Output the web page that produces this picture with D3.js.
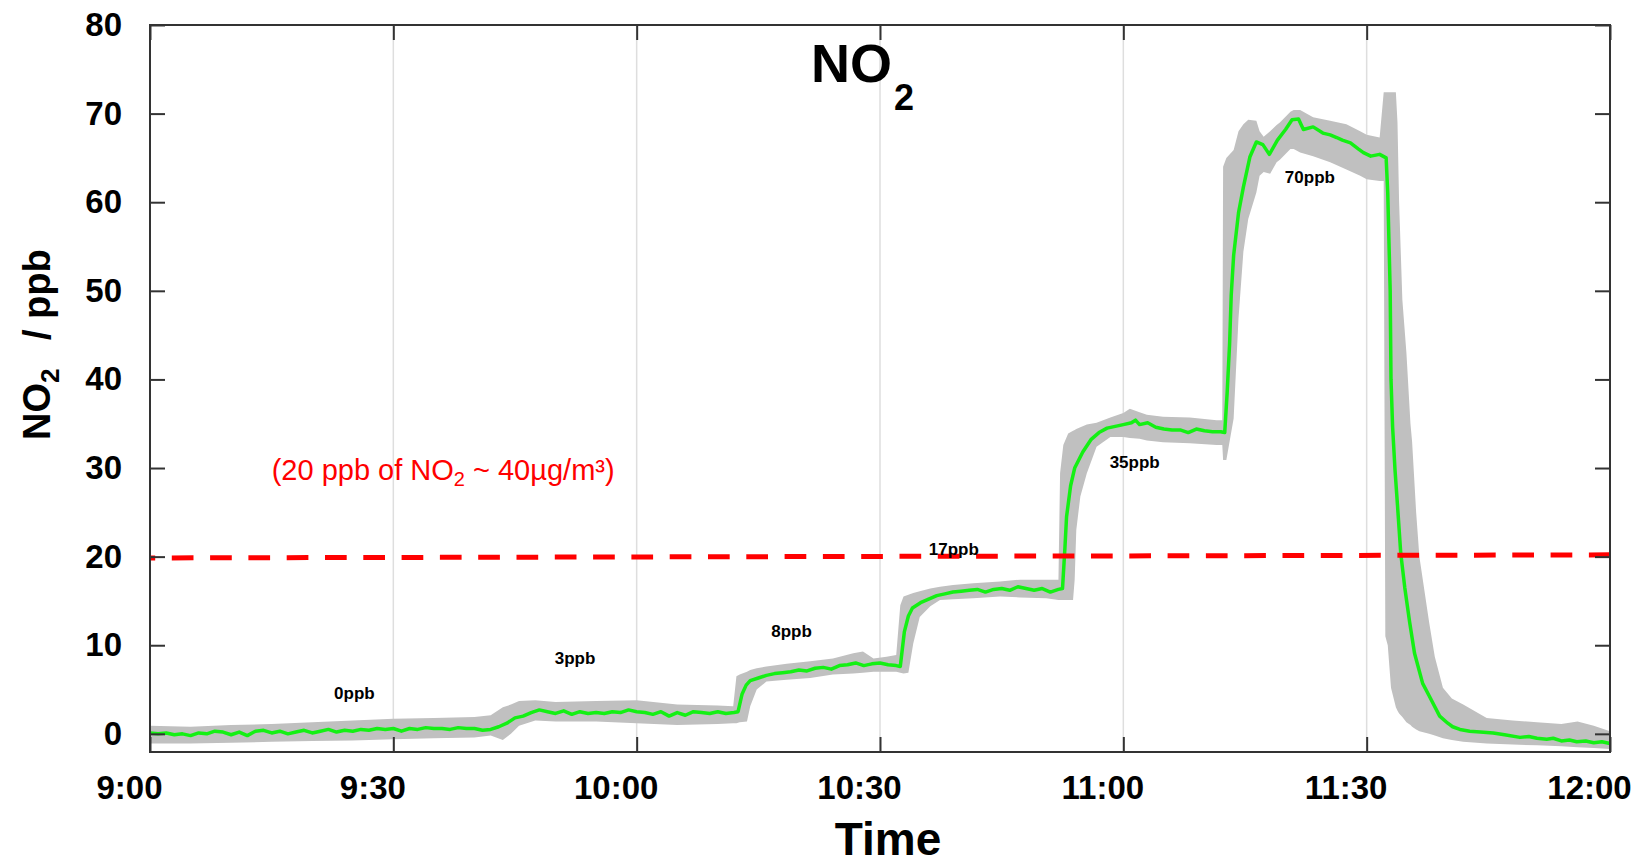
<!DOCTYPE html>
<html>
<head>
<meta charset="utf-8">
<script src="https://cdn.jsdelivr.net/npm/d3@7"></script>
<style>
body { margin: 0; background: #fff; }
svg { display: block; font-family: "Liberation Sans", Arial, sans-serif; }
</style>
</head>
<body>
<svg id="chart" width="1642" height="865"></svg>
<script>
// minutes after 9:00 and ppb
var xTickMinutes = [0, 30, 60, 90, 120, 150, 180];
var xTickLabels = ["9:00", "9:30", "10:00", "10:30", "11:00", "11:30", "12:00"];
var yTicks = [0, 10, 20, 30, 40, 50, 60, 70, 80];

// green trace: [minute, NO2 ppb]
var no2Mean = [
	[0,0.1],[1,0.0],[2,0.1],[3,-0.1],[4,0.0],[5,-0.2],[6,0.1],[7,0.0],[8,0.3],[9,0.2],
	[10,-0.1],[11,0.2],[12,-0.2],[13,0.3],[14,0.4],[15,0.1],[16,0.3],[17,0.0],[18,0.2],[19,0.4],
	[20,0.1],[21,0.3],[22,0.5],[23,0.2],[24,0.4],[25,0.3],[26,0.5],[27,0.4],[28,0.6],[29,0.5],
	[30,0.6],[31,0.3],[32,0.6],[33,0.5],[34,0.7],[35,0.6],[36,0.6],[37,0.5],[38,0.7],[39,0.6],
	[40,0.6],[41,0.4],[42,0.5],[43,0.8],[44,1.2],[45,1.8],[46,2.0],[47,2.4],[48,2.7],[49,2.5],
	[50,2.3],[51,2.6],[52,2.2],[53,2.5],[54,2.3],[55,2.4],[56,2.3],[57,2.5],[58,2.4],[59,2.7],
	[60,2.5],[61,2.4],[62,2.2],[63,2.5],[64,2.0],[65,2.4],[66,2.1],[67,2.5],[68,2.4],[69,2.3],
	[70,2.5],[71,2.3],[72,2.4],[72.5,2.5],[73,4.5],[73.5,5.5],[74,6.0],[75,6.3],[76,6.6],[77,6.8],
	[78,6.9],[79,7.0],[80,7.2],[81,7.1],[82,7.4],[83,7.5],[84,7.3],[85,7.7],[86,7.8],[87,8.0],
	[88,7.7],[89,7.9],[90,8.0],[91,7.8],[92,7.7],[92.5,7.6],[93,11.5],[93.5,13.3],[94,14.2],[95,14.8],
	[96,15.2],[97,15.6],[98,15.8],[99,16.0],[100,16.1],[101,16.2],[102,16.3],[103,16.0],[104,16.3],[105,16.4],
	[106,16.2],[107,16.6],[108,16.4],[109,16.2],[110,16.4],[111,16.0],[112,16.3],[112.5,16.4],[112.8,21.0],[113,24.5],
	[113.5,28.0],[114,30.0],[115,31.8],[116,33.2],[117,34.0],[118,34.5],[119,34.7],[120,34.9],[121,35.1],[121.5,35.4],
	[122,34.9],[123,35.1],[124,34.6],[125,34.4],[126,34.3],[127,34.3],[128,34.0],[129,34.4],[130,34.2],[131,34.1],
	[132,34.1],[132.5,34.0],[132.8,38.5],[133.1,44.0],[133.3,49.5],[133.6,54.0],[134.2,58.8],[134.8,61.7],[135.6,65.1],[136.4,66.8],
	[137.2,66.5],[138,65.4],[139,67.0],[140,68.2],[140.8,69.3],[141.6,69.4],[142.2,68.2],[143.4,68.5],[144.6,67.8],[145.5,67.6],
	[146.3,67.3],[147,67.0],[148,66.7],[149,66.0],[149.6,65.6],[150.5,65.2],[151.6,65.4],[152.4,65.0],[152.6,61.0],[152.9,50.0],
	[153,40.0],[153.2,34.6],[153.5,29.7],[153.8,25.8],[154.2,20.4],[154.7,16.5],[155.3,12.6],[155.9,9.1],[156.9,5.7],[157.7,4.3],
	[159,2.0],[160,1.2],[160.6,0.8],[161.5,0.5],[162.7,0.3],[164,0.2],[165.6,0.1],[167,-0.1],[168.9,-0.4],[170,-0.3],
	[171,-0.5],[172.2,-0.6],[173,-0.5],[174,-0.8],[175,-0.7],[175.9,-0.9],[177,-0.8],[178,-1.0],[179,-0.9],[180,-1.1]
];

// grey envelope: [minute, low, high]
var no2Band = [
	[0,-1.1,0.9],[5,-1.1,0.8],[10,-1.0,1.0],[15,-0.9,1.1],[20,-0.8,1.3],[25,-0.75,1.5],[30,-0.6,1.7],[35,-0.5,1.8],[40,-0.4,1.9],[42,-0.2,2.1],
	[43.5,-0.7,3.0],[44.5,0.0,3.3],[45.5,0.9,3.7],[47.5,1.5,3.8],[50,1.4,3.6],[55,1.4,3.7],[60,1.2,3.8],[65,1.0,3.3],[70,1.1,3.2],[71.9,1.2,3.1],
	[72.3,1.2,6.5],[72.7,1.3,6.7],[73.6,1.4,7.0],[74.0,3.1,7.2],[74.8,5.0,7.4],[76.0,5.9,7.6],[78.5,6.1,7.9],[81.4,6.3,8.2],[84.2,6.7,8.5],[86.7,6.8,9.1],
	[87.9,6.9,9.3],[89.2,7.0,8.5],[90.8,7.0,8.7],[92.0,7.0,8.9],[92.5,6.9,14.5],[92.9,6.8,15.5],[93.5,6.9,15.7],[94.1,10.2,15.9],[94.9,13.2,16.1],[96.2,14.4,16.4],
	[97.4,15.1,16.6],[99.0,15.2,16.8],[101.5,15.3,17.0],[104.8,15.5,17.2],[107.3,15.4,17.4],[110.5,15.3,17.4],[112.0,15.1,17.4],[112.2,15.1,29.4],[112.6,15.1,32.6],[113.2,15.1,33.9],
	[113.8,15.1,34.2],[114.0,17.4,34.3],[114.2,23.0,34.4],[114.7,26.8,34.6],[115.5,29.4,34.9],[116.7,32.4,35.1],[118.4,33.5,35.7],[120.0,33.5,36.2],[120.8,33.4,36.7],[122.0,33.3,36.3],
	[122.9,33.1,36.0],[124.9,32.9,35.8],[128.2,32.8,35.7],[131.5,32.6,35.4],[132.2,32.6,35.4],[132.3,30.9,64.0],[132.7,30.9,65.0],[133.6,35.6,65.9],[134.2,46.9,68.0],[134.8,54.4,68.8],
	[135.4,58.1,69.3],[136.4,61.1,69.2],[136.8,63.0,68.0],[137.3,63.4,67.4],[138.1,63.2,68.0],[138.9,64.5,68.7],[139.3,64.8,69.0],[140.6,66.0,70.2],[141.0,66.0,70.4],[141.8,65.6,70.4],
	[143.4,65.2,69.6],[145.5,64.5,69.2],[147.5,63.7,68.8],[149.2,63.0,68.0],[150.0,62.6,67.6],[151.6,62.4,67.3],[152.1,62.4,72.4],[152.3,11.0,72.4],[152.6,10.0,72.4],[153.0,5.2,72.4],
	[153.6,3.0,72.4],[153.8,2.6,69.0],[154.0,2.3,60.0],[154.4,1.9,49.0],[154.9,1.3,43.0],[155.4,1.0,35.0],[155.6,0.8,33.0],[156.1,0.5,25.0],[156.5,0.3,20.0],[157.7,0.0,12.6],
	[158.4,-0.2,8.7],[159.4,-0.5,5.2],[160.5,-0.7,4.0],[161.9,-0.9,3.3],[164.8,-1.1,1.8],[168,-1.2,1.5],[171,-1.3,1.3],[174,-1.4,1.1],[176,-1.5,1.4],[178,-1.6,0.9],[180,-1.7,0.3]
];

// 20 ppb limit line
var limitLine = [[0, 19.85], [180, 20.2]];

// concentration steps
var stepText = ["0ppb", "3ppb", "8ppb", "17ppb", "35ppb", "70ppb"];
var stepAt = [[25.2, 3.9], [52.4, 7.9], [79.1, 10.95], [99.1, 20.2], [121.4, 30.0], [143.0, 62.2]];

var svg = d3.select("#chart");
var plotLeft = 150, plotRight = 1610, plotTop = 25, plotBottom = 752;

var x = d3.scaleLinear().domain([0, 180]).range([plotLeft, plotRight]);
var y = d3.scaleLinear().domain([-2.05, 80]).range([plotBottom, plotTop]);

// grid
svg.append("g").selectAll("line")
	.data(xTickMinutes.slice(1, -1))
	.enter().append("line")
	.attr("x1", d => x(d)).attr("x2", d => x(d))
	.attr("y1", plotTop).attr("y2", plotBottom)
	.attr("stroke", "#dedede").attr("stroke-width", 1.5);

// envelope
var area = d3.area()
	.x(d => x(d[0]))
	.y0(d => y(d[1]))
	.y1(d => y(d[2]));
svg.append("path").datum(no2Band)
	.attr("d", area)
	.attr("fill", "#c0c0c0");

// trace
var line = d3.line()
	.x(d => x(d[0]))
	.y(d => y(d[1]));
svg.append("path").datum(no2Mean)
	.attr("d", line)
	.attr("fill", "none")
	.attr("stroke", "#14f014")
	.attr("stroke-width", 3.5)
	.attr("stroke-linejoin", "round");

// limit
svg.append("path").datum(limitLine)
	.attr("d", line)
	.attr("fill", "none")
	.attr("stroke", "#ff0000")
	.attr("stroke-width", 5)
	.attr("stroke-dasharray", "21.7,16.6")
	.attr("stroke-dashoffset", 16.5);

// axes
function styleAxis(g) {
	g.select(".domain").remove();
	g.selectAll(".tick line").attr("stroke", "#333").attr("stroke-width", 2);
	g.selectAll(".tick text")
		.attr("fill", "#000")
		.style("font-family", '"Liberation Sans", Arial, sans-serif')
		.style("font-weight", "bold")
		.style("font-size", "33px");
}

svg.append("g")
	.attr("transform", "translate(0," + plotBottom + ")")
	.call(d3.axisBottom(x).tickValues(xTickMinutes)
		.tickFormat((d, i) => xTickLabels[i])
		.tickSizeInner(-15).tickSizeOuter(0).tickPadding(24))
	.call(styleAxis)
	.selectAll(".tick text").attr("dx", -21);

svg.append("g")
	.attr("transform", "translate(0," + plotTop + ")")
	.call(d3.axisTop(x).tickValues(xTickMinutes).tickFormat("")
		.tickSizeInner(-15).tickSizeOuter(0))
	.call(styleAxis);

svg.append("g")
	.attr("transform", "translate(" + plotLeft + ",0)")
	.call(d3.axisLeft(y).tickValues(yTicks)
		.tickSizeInner(-15).tickSizeOuter(0).tickPadding(28))
	.call(styleAxis);

svg.append("g")
	.attr("transform", "translate(" + plotRight + ",0)")
	.call(d3.axisRight(y).tickValues(yTicks).tickFormat("")
		.tickSizeInner(-15).tickSizeOuter(0))
	.call(styleAxis);

svg.append("rect")
	.attr("x", plotLeft).attr("y", plotTop)
	.attr("width", plotRight - plotLeft).attr("height", plotBottom - plotTop)
	.attr("fill", "none").attr("stroke", "#333").attr("stroke-width", 2);

// step labels
svg.append("g").selectAll("text")
	.data(stepText)
	.enter().append("text")
	.attr("x", (d, i) => x(stepAt[i][0]))
	.attr("y", (d, i) => y(stepAt[i][1]))
	.attr("text-anchor", "middle")
	.attr("font-size", 17).attr("font-weight", "bold")
	.text(d => d);

// limit note
var note = svg.append("text")
	.attr("x", x(15.0)).attr("y", y(28.7))
	.attr("fill", "#ff0000").attr("font-size", 29);
note.append("tspan").text("(20 ppb of NO");
note.append("tspan").attr("font-size", 20).attr("dy", 6).text("2");
note.append("tspan").attr("dy", -6).text(" ~ 40\u00b5g/m\u00b3)");

// title
var title = svg.append("text")
	.attr("x", 811).attr("y", 82)
	.attr("font-size", 54).attr("font-weight", "bold");
title.append("tspan").text("NO");
title.append("tspan").attr("font-size", 36).attr("dy", 28).attr("dx", 2).text("2");

// axis titles
svg.append("text")
	.attr("x", 888).attr("y", 855)
	.attr("text-anchor", "middle")
	.attr("font-size", 46).attr("font-weight", "bold")
	.text("Time");

var yTitle = svg.append("text")
	.attr("transform", "translate(50,440) rotate(-90)")
	.attr("font-size", 38).attr("font-weight", "bold");
yTitle.append("tspan").text("NO");
yTitle.append("tspan").attr("font-size", 26).attr("dy", 9).text("2");
yTitle.append("tspan").attr("x", 100).attr("dy", -9).text("/ ppb");
</script>
</body>
</html>
